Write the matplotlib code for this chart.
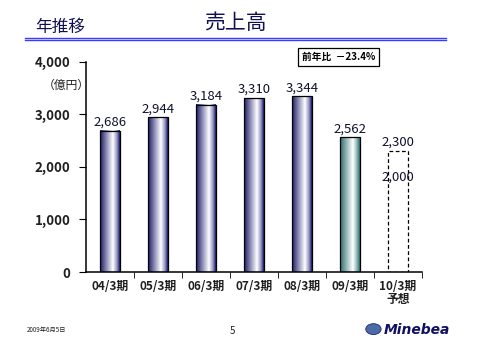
import numpy as np
import matplotlib.pyplot as plt
from matplotlib.colors import LinearSegmentedColormap
from matplotlib.patches import Rectangle, Circle
from matplotlib.lines import Line2D

plt.rcParams['font.family'] = ['Noto Sans CJK JP', 'DejaVu Sans']

# データ
periods = ['04/3期', '05/3期', '06/3期', '07/3期', '08/3期', '09/3期', '10/3期\n予想']
sales = [2686, 2944, 3184, 3310, 3344, 2562]
forecast_high = 2300
forecast_low = 2000
yticks = [0, 1000, 2000, 3000, 4000]

fig = plt.figure(figsize=(4.8, 3.4), dpi=100)
ax = fig.add_axes([0.179, 0.2, 0.7, 0.618])

navy = LinearSegmentedColormap.from_list('navy', [(0, '#1c1c6a'), (0.65, '#ffffff'), (0.85, '#9a9ac8'), (1, '#1c1c6a')])
teal = LinearSegmentedColormap.from_list('teal', [(0, '#2e6e6e'), (0.65, '#ffffff'), (0.85, '#8fb8b8'), (1, '#2e6e6e')])
grad = np.linspace(0, 1, 64).reshape(1, -1)

w = 0.4
for i, v in enumerate(sales):
    cmap = teal if i == 5 else navy
    ax.imshow(grad, cmap=cmap, aspect='auto', extent=[i - w/2, i + w/2, 0, v], zorder=2)
    ax.add_patch(Rectangle((i - w/2, 0), w, v, fill=False, ec='black', lw=0.9, zorder=3))
    ax.text(i, v + 40, f'{v:,}', ha='center', va='bottom', fontsize=9.5, color='#101030')

# 予想（破線）
i = 6
ax.add_patch(Rectangle((i - w/2, 0), w, forecast_high, fill=False, ec='black', lw=0.9, ls=(0, (3, 2)), zorder=3))
ax.text(i, forecast_high + 40, f'{forecast_high:,}', ha='center', va='bottom', fontsize=9.5, color='#101030')
ax.text(i, forecast_low - 200, f'{forecast_low:,}', ha='center', va='center', fontsize=9.5, color='#101030', zorder=4)

ax.set_xlim(-0.5, 6.5)
ax.set_ylim(0, 4000)
ax.set_yticks(yticks)
ax.set_yticklabels([f'{t:,}' for t in yticks], fontsize=9.5, fontweight='bold', color='#202020')
ax.set_xticks(range(len(periods)))
ax.set_xticklabels(periods, fontsize=8.5, fontweight='bold', color='#202020', linespacing=0.95)
ax.set_xticks(np.arange(0.5, 7, 1), minor=True)
ax.tick_params(axis='x', which='major', length=0, pad=6)
ax.tick_params(axis='x', which='minor', length=4, direction='out')
ax.tick_params(axis='y', length=5, direction='out', pad=6)
for s in ['top', 'right']:
    ax.spines[s].set_visible(False)
ax.spines['left'].set_linewidth(1.1)
ax.spines['bottom'].set_linewidth(1.1)

ax.text(-0.42, 3560, '（億円）', ha='right', va='center', fontsize=8.5, color='#202020', transform=ax.transData)

# 見出し
fig.text(0.49, 0.932, '売上高', ha='center', va='center', fontsize=15, color='#101050')
fig.text(0.073, 0.918, '年推移', ha='left', va='center', fontsize=12, color='#101050')
fig.add_artist(Line2D([0.052, 0.929], [0.889, 0.889], color='#3a3aff', lw=1))
fig.add_artist(Line2D([0.052, 0.929], [0.881, 0.881], color='#3a3aff', lw=1))

fig.text(0.706, 0.832, '前年比  －23.4%', ha='center', va='center', fontsize=7, fontweight='bold',
         bbox=dict(fc='white', ec='black', lw=0.9, boxstyle='square,pad=0.4'))

# フッター
fig.text(0.056, 0.03, '2009年6月5日', ha='left', va='center', fontsize=4.5, style='italic', color='#202020')
fig.text(0.485, 0.025, '5', ha='center', va='center', fontsize=7, color='#202020')
fig.add_artist(Circle((0.778, 0.032), 0.016, transform=fig.transFigure, fc='#4a6aa8', ec='#1c2a70', lw=0.6))
fig.text(0.8, 0.03, 'Minebea', ha='left', va='center', fontsize=10, fontweight='bold', style='italic',
         color='#101060', family='DejaVu Sans')

fig.savefig('out.png', dpi=100)
